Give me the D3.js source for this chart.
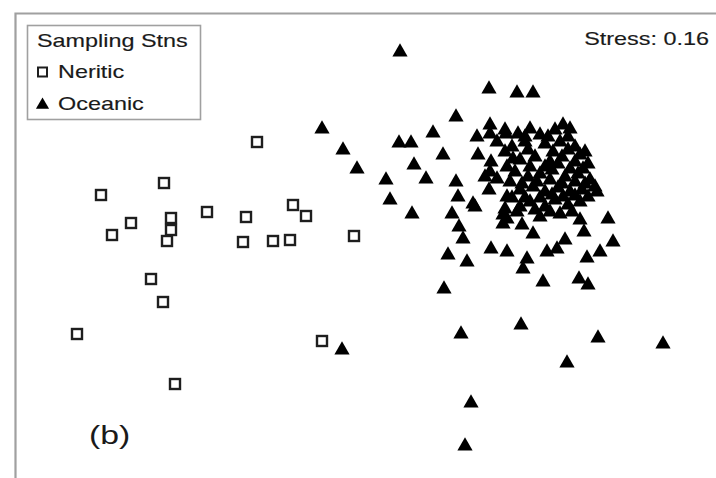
<!DOCTYPE html>
<html>
<head>
<meta charset="utf-8">
<script src="https://cdn.jsdelivr.net/npm/d3@7"></script>
<style>
  body { margin: 0; background: #fff; }
  svg text { font-family: "Liberation Sans", Arial, sans-serif; fill: #1a1a1a; stroke: #1a1a1a; stroke-width: 0.15; }
</style>
</head>
<body>
<svg id="chart" width="716" height="478"></svg>
<script>
// nMDS ordination scores (axis 1, axis 2)
var neritic = [
  [-1.08, 1.03], [-2.64, 0.50], [-2.01, 0.62], [-2.34, 0.22], [-2.53, 0.10],
  [-1.94, 0.27], [-1.94, 0.15], [-1.98, 0.04], [-1.58, 0.33], [-1.19, 0.28],
  [-1.22, 0.03], [-0.92, 0.04], [-0.75, 0.05], [-0.72, 0.40], [-0.59, 0.29],
  [-0.11, 0.09], [-2.14, -0.34], [-2.02, -0.57], [-2.88, -0.89], [-0.43, -0.96],
  [-1.90, -1.39]
];
var oceanic = [
  [0.35, 1.95], [1.24, 1.58], [1.52, 1.54], [1.68, 1.54], [0.91, 1.30],
  [-0.43, 1.18], [0.68, 1.14], [-0.22, 0.97], [-0.08, 0.78], [0.34, 1.04],
  [0.46, 1.04], [0.78, 0.92], [0.49, 0.82], [0.21, 0.67], [0.61, 0.68],
  [0.91, 0.65], [0.93, 0.50], [1.12, 1.10], [1.25, 1.22], [1.25, 1.13],
  [1.41, 1.13], [1.13, 0.92], [1.26, 0.85], [1.25, 0.75], [1.20, 0.70],
  [1.32, 0.68], [1.24, 0.57], [1.10, 0.40], [1.42, 0.50], [1.40, 0.38],
  [1.42, 0.28], [1.48, 0.88], [0.25, 0.47], [0.47, 0.33], [0.87, 0.33],
  [0.94, 0.20], [0.98, 0.08], [0.83, -0.08], [1.02, -0.15], [1.26, -0.02],
  [1.42, -0.05], [1.62, -0.12], [1.58, -0.22], [1.78, -0.35], [0.79, -0.42],
  [1.57, 0.22], [1.68, 0.13], [1.82, -0.05], [1.92, -0.02], [2.00, 0.07],
  [2.15, 0.27], [2.19, 0.15], [2.22, -0.11], [2.35, -0.05], [2.48, 0.05],
  [2.43, 0.28], [2.14, -0.32], [2.23, -0.38], [0.96, -0.87], [1.56, -0.78],
  [2.33, -0.91], [2.98, -0.97], [2.02, -1.16], [1.06, -1.56], [1.00, -1.99],
  [-0.23, -1.03], [1.08, 0.43], [1.38, 0.32], [1.38, 0.23],
  // dense core
  [1.40, 1.17], [1.53, 1.13], [1.65, 1.18], [1.75, 1.12], [1.90, 1.17],
  [1.98, 1.22], [2.05, 1.18], [1.32, 1.05], [1.47, 1.00], [1.60, 1.05],
  [1.80, 1.03], [1.95, 1.05], [2.10, 1.00], [2.20, 0.95], [1.55, 0.87],
  [1.70, 0.90], [1.85, 0.85], [1.97, 0.90], [2.10, 0.85], [2.23, 0.83],
  [1.50, 0.75], [1.63, 0.70], [1.75, 0.73], [1.87, 0.77], [2.00, 0.70],
  [2.13, 0.73], [2.25, 0.67], [1.55, 0.57], [1.68, 0.60], [1.80, 0.55],
  [1.93, 0.59], [2.05, 0.55], [2.17, 0.57], [2.30, 0.60], [1.65, 0.45],
  [1.80, 0.40], [1.90, 0.47], [2.03, 0.42], [2.15, 0.45], [1.75, 0.30],
  [1.95, 0.33], [1.52, 0.35],
  [1.60, 1.10], [1.83, 1.10], [2.03, 1.10], [1.40, 0.95], [1.63, 0.97],
  [1.88, 0.95], [2.03, 0.97], [2.15, 0.92], [1.42, 0.80], [1.65, 0.80],
  [1.80, 0.80], [1.93, 0.83], [2.05, 0.78], [2.18, 0.78], [1.45, 0.65],
  [1.57, 0.63], [1.72, 0.65], [1.85, 0.67], [1.97, 0.63], [2.10, 0.65],
  [2.20, 0.63], [2.32, 0.55], [1.47, 0.49], [1.60, 0.49], [1.75, 0.49],
  [1.87, 0.52], [1.98, 0.50], [2.10, 0.51], [2.23, 0.50], [1.55, 0.40],
  [1.70, 0.37], [1.85, 0.35], [2.07, 0.35]
];
var legendTitle = 'Sampling Stns';
var legendLabels = ['Neritic', 'Oceanic'];
var stressLabel = 'Stress: 0.16';
var panelLabel = '(b)';

var svg = d3.select('#chart');
var x = d3.scaleLinear().domain([-3.5, 3.5]).range([15, 715]);
var y = d3.scaleLinear().domain([2.32, -2.33]).range([13, 478]);
var stretch = 1.3; // the figure is a little wider than tall in the source

// frame (only left and top edges fall inside the picture)
svg.append('path')
    .attr('d', 'M15.5,478V13.5H716')
    .attr('fill', 'none')
    .attr('stroke', '#a0a0a0')
    .attr('stroke-width', 2.2);

var tri = d3.symbol().type(d3.symbolTriangle).size(100);

svg.append('g').selectAll('path')
    .data(oceanic)
    .enter().append('path')
    .attr('d', tri)
    .attr('transform', function (d) { return 'translate(' + x(d[0]) + ',' + (y(d[1]) + 2) + ')'; })
    .attr('fill', '#000');

svg.append('g').selectAll('rect')
    .data(neritic)
    .enter().append('rect')
    .attr('x', function (d) { return x(d[0]) - 5; })
    .attr('y', function (d) { return y(d[1]) - 5; })
    .attr('width', 10)
    .attr('height', 10)
    .attr('fill', '#fff')
    .attr('stroke', '#1e1e1e')
    .attr('stroke-width', 2.4);

// legend
var lg = svg.append('g');
lg.append('rect')
    .attr('x', 27.5).attr('y', 25.5)
    .attr('width', 173).attr('height', 94)
    .attr('fill', '#fff')
    .attr('stroke', '#a0a0a0')
    .attr('stroke-width', 1.6);
lg.append('text')
    .attr('transform', 'translate(37,47) scale(' + stretch + ',1)')
    .style('font-size', '18px')
    .text(legendTitle);
lg.append('rect')
    .attr('x', 38).attr('y', 67.5)
    .attr('width', 9).attr('height', 9)
    .attr('fill', '#fff')
    .attr('stroke', '#1e1e1e')
    .attr('stroke-width', 2);
lg.append('path')
    .attr('d', d3.symbol().type(d3.symbolTriangle).size(75))
    .attr('transform', 'translate(42.5,105)')
    .attr('fill', '#000');
lg.selectAll('.lab')
    .data(legendLabels)
    .enter().append('text')
    .attr('transform', function (d, i) { return 'translate(58,' + (78 + i * 32) + ') scale(' + stretch + ',1)'; })
    .style('font-size', '18px')
    .text(function (d) { return d; });

svg.append('text')
    .attr('transform', 'translate(709,45) scale(' + stretch + ',1)')
    .attr('text-anchor', 'end')
    .style('font-size', '18px')
    .text(stressLabel);

svg.append('text')
    .attr('transform', 'translate(89,444) scale(' + stretch + ',1)')
    .style('font-size', '26px')
    .style('stroke-width', 0)
    .text(panelLabel);
</script>
</body>
</html>
